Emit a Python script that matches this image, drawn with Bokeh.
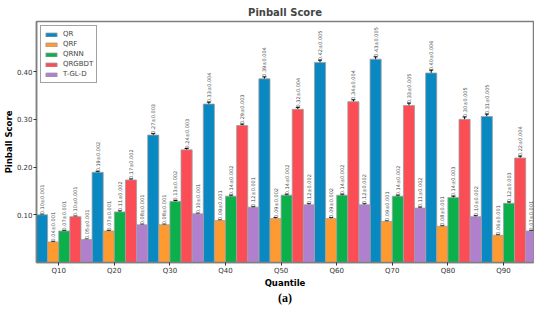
import numpy as np
from bokeh.plotting import figure
from bokeh.models import (ColumnDataSource, FixedTicker, Whisker, TeeHead, LinearAxis,
                          Range1d, CustomJSTickFormatter)
from bokeh.core.properties import value
from bokeh.embed import file_html
from bokeh.resources import INLINE

quantiles = ["Q10", "Q20", "Q30", "Q40", "Q50", "Q60", "Q70", "Q80", "Q90"]
models = ["QR", "QRF", "QRNN", "QRGBDT", "T-GL-D"]
colors = ["#0a88c2", "#ff9a30", "#0cb04a", "#fb4d55", "#b07fce"]

qr = [0.100, 0.189, 0.267, 0.332, 0.385, 0.419, 0.426, 0.397, 0.306]
qrf = [0.043, 0.066, 0.079, 0.088, 0.092, 0.092, 0.086, 0.076, 0.057]
qrnn = [0.066, 0.106, 0.128, 0.139, 0.141, 0.141, 0.139, 0.136, 0.124]
qrgbdt = [0.096, 0.173, 0.236, 0.287, 0.321, 0.337, 0.329, 0.300, 0.219]
tgld = [0.048, 0.079, 0.102, 0.116, 0.121, 0.121, 0.114, 0.096, 0.066]

qr_err = [0.001, 0.002, 0.003, 0.004, 0.004, 0.005, 0.005, 0.006, 0.005]
qrf_err = [0.001, 0.001, 0.001, 0.001, 0.002, 0.002, 0.001, 0.001, 0.001]
qrnn_err = [0.001, 0.002, 0.002, 0.002, 0.002, 0.002, 0.002, 0.003, 0.003]
qrgbdt_err = [0.001, 0.002, 0.003, 0.003, 0.004, 0.004, 0.005, 0.005, 0.004]
tgld_err = [0.001, 0.001, 0.001, 0.001, 0.002, 0.002, 0.002, 0.002, 0.001]

y_ticks = [0.10, 0.20, 0.30, 0.40]

series = [qr, qrf, qrnn, qrgbdt, tgld]
errors = [qr_err, qrf_err, qrnn_err, qrgbdt_err, tgld_err]

bar_w = 0.2
x0, x1 = -0.40, 8.54
p = figure(width=534, height=307, output_backend="svg", toolbar_location=None,
           x_range=Range1d(x0, x1), y_range=Range1d(0.0, 0.505),
           min_border_left=0, min_border_right=1, min_border_top=0, min_border_bottom=0)

p.title.text = "Pinball Score"
p.title.align = "center"
p.title.text_font = "DejaVu Sans"
p.title.text_font_size = "10px"
p.title.text_font_style = "bold"
p.title.standoff = 8

base_x = np.arange(len(quantiles))
for j, (name, vals, errs, col) in enumerate(zip(models, series, errors, colors)):
    xs = base_x + (j - 1.5) * bar_w
    vals = np.array(vals)
    errs = np.array(errs)
    src = ColumnDataSource(dict(
        x=xs, top=vals, upper=vals + errs, lower=vals - errs,
        label=[f"{v:.2f}\u00b1{e:.3f}" for v, e in zip(vals, errs)],
        ty=vals + errs))
    p.vbar(x="x", top="top", width=bar_w, bottom=0, source=src, fill_color=col,
           line_color="#a0a0a0", line_width=0.8, legend_label=name)
    wh = Whisker(base="x", upper="upper", lower="lower", source=src,
                 line_color="black", line_width=1,
                 upper_head=TeeHead(size=4, line_color="black", line_width=1),
                 lower_head=TeeHead(size=4, line_color="black", line_width=1))
    p.add_layout(wh)
    p.text(x="x", y="ty", text="label", source=src, angle=np.pi / 2,
           text_align="left", text_baseline="middle", text_font_size="5px",
           text_color="#444444", text_font=value("DejaVu Sans"))

p.xgrid.visible = False
p.ygrid.visible = False
p.outline_line_color = "#7f7f7f"
p.outline_line_width = 1.5
p.background_fill_color = "white"

p.xaxis.ticker = FixedTicker(ticks=list(base_x))
p.xaxis.major_label_overrides = {int(i): q for i, q in enumerate(quantiles)}
p.xaxis.axis_label = "Quantile"
p.yaxis.ticker = FixedTicker(ticks=y_ticks)
p.yaxis.formatter = CustomJSTickFormatter(code="return tick.toFixed(2);")
p.yaxis.axis_label = "Pinball Score"

for ax in (p.xaxis[0], p.yaxis[0]):
    ax.axis_line_color = "#7f7f7f"
    ax.axis_line_width = 1.5
    ax.major_tick_line_color = "#333333"
    ax.major_tick_out = 3
    ax.major_tick_in = 0
    ax.minor_tick_out = 0
    ax.minor_tick_in = 0
    ax.major_label_text_font = "DejaVu Sans"
    ax.major_label_text_font_size = "7px"
    ax.major_label_text_color = "#333333"
    ax.major_label_standoff = 1
    ax.axis_label_text_font = "DejaVu Sans"
    ax.axis_label_text_font_size = "8.5px"
    ax.axis_label_text_font_style = "bold"
    ax.axis_label_text_color = "black"
    ax.axis_label_standoff = 0

# caption "(a)" below the chart, as a bare axis label
cap = LinearAxis(ticker=FixedTicker(ticks=[]), axis_label="(a)")
cap.axis_line_color = None
cap.major_tick_line_color = None
cap.minor_tick_line_color = None
cap.major_tick_out = 0
cap.major_tick_in = 0
cap.minor_tick_out = 0
cap.minor_tick_in = 0
cap.major_label_standoff = 0
cap.major_label_text_font_size = "0px"
cap.axis_label_text_font = "Liberation Serif"
cap.axis_label_text_font_size = "12px"
cap.axis_label_text_font_style = "bold"
cap.axis_label_text_color = "black"
cap.axis_label_standoff = 0
p.add_layout(cap, "below")

lg = p.legend[0]
lg.location = "top_left"
lg.margin = 4
lg.padding = 3
lg.spacing = 0
lg.label_height = 10
lg.glyph_height = 5
lg.glyph_width = 14
lg.label_standoff = 5
lg.label_text_font = "DejaVu Sans"
lg.label_text_font_size = "7px"
lg.label_text_baseline = "middle"
lg.border_line_color = "#444444"
lg.border_line_width = 1
lg.background_fill_alpha = 1.0

open("out.html", "w").write(file_html(p, INLINE))
